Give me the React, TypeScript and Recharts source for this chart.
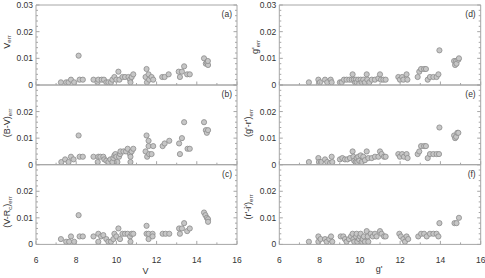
import { ScatterChart, Scatter, XAxis, YAxis } from 'recharts'

// V magnitude panels (a) V_err, (b) (B-V)_err, (c) (V-Rc)_err
const vA = [7.24, 7.5, 7.62, 7.74, 7.9, 8.12, 8.17, 8.33, 8.86, 9.06, 9.1, 9.27, 9.38, 9.5, 9.6, 9.73, 9.8, 9.9, 10.0, 10.1, 10.15, 10.3, 10.43, 10.6, 10.68, 10.7, 10.76, 10.84, 11.45, 11.5, 11.52, 11.6, 11.63, 11.75, 11.83, 12.28, 12.4, 12.6, 13.1, 13.16, 13.26, 13.37, 13.52, 13.65, 14.36, 14.45, 14.5, 14.56, 14.55]
const errA = [0.001, 0.001, 0.001, 0.002, 0.001, 0.011, 0.002, 0.002, 0.002, 0.001, 0.002, 0.002, 0.002, 0.001, 0.001, 0.001, 0.002, 0.003, 0.002, 0.005, 0.002, 0.003, 0.003, 0.003, 0.002, 0.001, 0.003, 0.004, 0.003, 0.006, 0.001, 0.004, 0.002, 0.003, 0.002, 0.003, 0.003, 0.004, 0.005, 0.003, 0.005, 0.007, 0.004, 0.004, 0.01, 0.008, 0.0085, 0.0075, 0.009]

const vB = [7.26, 7.45, 7.62, 7.74, 7.87, 8.12, 8.17, 8.33, 8.86, 9.1, 9.07, 9.2, 9.35, 9.4, 9.5, 9.6, 9.7, 9.8, 9.85, 9.9, 9.95, 10.0, 10.05, 10.13, 10.18, 10.2, 10.35, 10.48, 10.56, 10.68, 10.7, 10.7, 10.76, 10.84, 11.45, 11.5, 11.53, 11.6, 11.6, 11.63, 11.75, 11.83, 12.3, 12.4, 12.63, 13.12, 13.16, 13.26, 13.37, 13.54, 13.65, 14.36, 14.45, 14.5, 14.56]
const errB = [0.001, 0.002, 0.001, 0.003, 0.002, 0.011, 0.003, 0.003, 0.003, 0.003, 0.001, 0.003, 0.003, 0.002, 0.0015, 0.001, 0.002, 0.001, 0.0025, 0.0035, 0.004, 0.003, 0.001, 0.003, 0.004, 0.005, 0.005, 0.005, 0.006, 0.004, 0.003, 0.001, 0.005, 0.006, 0.005, 0.011, 0.003, 0.009, 0.007, 0.004, 0.004, 0.007, 0.007, 0.008, 0.009, 0.008, 0.004, 0.01, 0.016, 0.006, 0.006, 0.016, 0.013, 0.012, 0.013]

const vC = [7.24, 7.5, 7.65, 7.74, 7.9, 8.12, 8.17, 8.33, 8.86, 9.1, 9.1, 9.24, 9.35, 9.5, 9.6, 9.73, 9.85, 9.9, 10.0, 10.1, 10.18, 10.3, 10.43, 10.56, 10.68, 10.7, 10.76, 10.84, 11.5, 11.5, 11.6, 11.6, 11.8, 11.8, 12.3, 12.45, 12.63, 13.12, 13.16, 13.26, 13.37, 13.52, 13.65, 14.36, 14.43, 14.5, 14.56, 14.56]
const errC = [0.002, 0.001, 0.001, 0.003, 0.001, 0.011, 0.003, 0.003, 0.003, 0.004, 0.001, 0.003, 0.0035, 0.002, 0.001, 0.001, 0.002, 0.004, 0.003, 0.006, 0.002, 0.004, 0.004, 0.004, 0.003, 0.001, 0.004, 0.004, 0.007, 0.004, 0.002, 0.004, 0.004, 0.003, 0.004, 0.004, 0.004, 0.006, 0.004, 0.006, 0.008, 0.005, 0.006, 0.012, 0.011, 0.01, 0.0095, 0.0085]

// g' magnitude panels (d) g'_err, (e) (g'-r')_err, (f) (r'-i')_err
const gD = [7.47, 7.94, 7.97, 8.02, 8.27, 8.38, 8.55, 8.6, 9.01, 9.1, 9.21, 9.34, 9.48, 9.6, 9.64, 9.7, 9.76, 9.8, 9.84, 9.92, 9.97, 10.04, 10.09, 10.17, 10.25, 10.34, 10.37, 10.47, 10.59, 10.75, 10.92, 11.0, 11.05, 11.17, 11.28, 11.91, 11.99, 12.1, 12.16, 12.32, 12.36, 12.87, 12.95, 13.04, 13.19, 13.28, 13.37, 13.48, 13.65, 13.81, 13.9, 13.95, 14.68, 14.73, 14.78, 14.8, 14.89, 14.92]
const errD = [0.001, 0.002, 0.0006, 0.001, 0.002, 0.001, 0.002, 0.001, 0.001, 0.001, 0.002, 0.002, 0.002, 0.002, 0.004, 0.002, 0.001, 0.002, 0.001, 0.002, 0.0005, 0.002, 0.001, 0.002, 0.001, 0.004, 0.002, 0.001, 0.002, 0.002, 0.0025, 0.004, 0.002, 0.002, 0.002, 0.003, 0.002, 0.003, 0.002, 0.004, 0.002, 0.003, 0.005, 0.006, 0.006, 0.006, 0.002, 0.003, 0.003, 0.003, 0.004, 0.013, 0.009, 0.0075, 0.009, 0.008, 0.0095, 0.01]

const gE = [7.47, 7.94, 7.97, 8.07, 8.27, 8.38, 8.52, 8.6, 8.63, 9.01, 9.13, 9.26, 9.38, 9.51, 9.64, 9.68, 9.72, 9.79, 9.84, 9.87, 9.92, 9.97, 10.04, 10.09, 10.17, 10.25, 10.34, 10.42, 10.59, 10.75, 10.92, 11.0, 11.08, 11.2, 11.28, 11.91, 11.99, 12.1, 12.19, 12.32, 12.37, 12.87, 12.95, 13.04, 13.19, 13.28, 13.37, 13.48, 13.65, 13.81, 13.93, 13.95, 14.68, 14.73, 14.78, 14.84, 14.89]
const errE = [0.001, 0.0025, 0.001, 0.001, 0.002, 0.001, 0.0006, 0.003, 0.001, 0.002, 0.0025, 0.002, 0.002, 0.0025, 0.005, 0.003, 0.0015, 0.001, 0.0025, 0.001, 0.003, 0.0015, 0.0035, 0.001, 0.003, 0.0017, 0.005, 0.0025, 0.0025, 0.003, 0.003, 0.005, 0.004, 0.003, 0.003, 0.004, 0.003, 0.004, 0.003, 0.004, 0.0025, 0.004, 0.005, 0.007, 0.007, 0.007, 0.0025, 0.004, 0.004, 0.004, 0.004, 0.014, 0.011, 0.01, 0.0105, 0.012, 0.012]

const gF = [7.47, 7.94, 7.94, 8.05, 8.27, 8.35, 8.48, 8.57, 8.63, 9.05, 9.18, 9.26, 9.34, 9.46, 9.56, 9.64, 9.68, 9.72, 9.81, 9.84, 9.87, 9.96, 10.01, 10.04, 10.09, 10.14, 10.2, 10.25, 10.34, 10.39, 10.42, 10.54, 10.64, 10.75, 10.83, 11.0, 11.08, 11.2, 11.28, 11.96, 12.04, 12.16, 12.24, 12.32, 12.4, 12.9, 13.04, 13.19, 13.32, 13.48, 13.65, 13.81, 13.9, 13.95, 14.7, 14.8, 14.92]
const errF = [0.001, 0.003, 0.001, 0.002, 0.002, 0.001, 0.002, 0.003, 0.001, 0.003, 0.003, 0.002, 0.001, 0.002, 0.003, 0.004, 0.002, 0.001, 0.003, 0.004, 0.001, 0.002, 0.003, 0.004, 0.001, 0.002, 0.003, 0.001, 0.005, 0.003, 0.001, 0.004, 0.003, 0.004, 0.003, 0.005, 0.004, 0.003, 0.003, 0.004, 0.003, 0.002, 0.001, 0.003, 0.002, 0.003, 0.004, 0.004, 0.003, 0.004, 0.004, 0.004, 0.003, 0.008, 0.008, 0.008, 0.01]

const xTicks = [6, 7, 8, 9, 10, 11, 12, 13, 14, 15, 16]
const yTicks = [0, 0.002, 0.004, 0.006, 0.008, 0.01, 0.012, 0.014, 0.016, 0.018, 0.02, 0.022, 0.024, 0.026, 0.028, 0.03]

const W = 485
const H = 278
const AXIS = '#a6a6a6'
const TEXT = '#333'
const FONT = '"Liberation Sans", Arial, sans-serif'

const COLS = [
  { left: 36, right: 237 },
  { left: 279.3, right: 480.7 },
]
const ROWS = [
  { top: 5, bottom: 85 },
  { top: 85, bottom: 164.7 },
  { top: 164.7, bottom: 244.4 },
]

const Dot = (props: any) => (
  <circle cx={props.cx} cy={props.cy} r={2.6} fill="#c6c6c6" stroke="#8c8c8c" strokeWidth={0.8} />
)

const XTick = (props: any) => {
  const { x, y, payload, dir, labels } = props
  const v = payload.value
  const major = v % 2 === 0
  return (
    <g>
      <line x1={x} x2={x} y1={y} y2={y + dir * (major ? 3.5 : 2)} stroke={AXIS} />
      {labels && major && (
        <text x={x} y={y + 19} textAnchor="middle" fontSize={8.5} fill={TEXT} fontFamily={FONT}>
          {v}
        </text>
      )}
    </g>
  )
}

const YTick = (props: any) => {
  const { x, y, payload, dir, maxLabel } = props
  const v = payload.value
  const k = Math.round(v * 500)
  const major = k % 5 === 0
  return (
    <g>
      <line x1={x} x2={x + dir * (major ? 3.5 : 2)} y1={y} y2={y} stroke={AXIS} />
      {maxLabel != null && major && v <= maxLabel + 1e-9 && (
        <text x={x - 3} y={y + 3} textAnchor="end" fontSize={8.5} fill={TEXT} fontFamily={FONT}>
          {v === 0 ? '0' : v.toFixed(2)}
        </text>
      )}
    </g>
  )
}

function Panel({ xs, ys, col, row, maxLabel, xLabels }: any) {
  const data = xs.map((x: number, i: number) => ({ x, y: ys[i] }))
  const c = COLS[col]
  const r = ROWS[row]
  return (
    <div style={{ position: 'absolute', left: 0, top: 0 }}>
      <ScatterChart
        width={W}
        height={H}
        margin={{ left: c.left - 1, right: W - c.right - 1, top: r.top - 1, bottom: H - r.bottom - 1 }}
      >
        <XAxis
          xAxisId="b"
          type="number"
          dataKey="x"
          domain={[6, 16]}
          ticks={xTicks}
          interval={0}
          height={1}
          tickSize={0}
          tickMargin={0}
          tickLine={false}
          axisLine={{ stroke: AXIS }}
          tick={<XTick dir={-1} labels={xLabels} />}
          allowDataOverflow
        />
        <XAxis
          xAxisId="t"
          orientation="top"
          type="number"
          domain={[6, 16]}
          ticks={xTicks}
          interval={0}
          height={1}
          tickSize={0}
          tickMargin={0}
          tickLine={false}
          axisLine={{ stroke: AXIS }}
          tick={<XTick dir={1} labels={false} />}
          allowDataOverflow
        />
        <YAxis
          yAxisId="l"
          type="number"
          dataKey="y"
          domain={[0, 0.03]}
          ticks={yTicks}
          interval={0}
          width={1}
          tickSize={0}
          tickMargin={0}
          tickLine={false}
          axisLine={{ stroke: AXIS }}
          tick={<YTick dir={1} maxLabel={maxLabel} />}
          allowDataOverflow
        />
        <YAxis
          yAxisId="r"
          orientation="right"
          type="number"
          domain={[0, 0.03]}
          ticks={yTicks}
          interval={0}
          width={1}
          tickSize={0}
          tickMargin={0}
          tickLine={false}
          axisLine={{ stroke: AXIS }}
          tick={<YTick dir={-1} maxLabel={null} />}
          allowDataOverflow
        />
        <Scatter xAxisId="b" yAxisId="l" data={data} shape={Dot} isAnimationActive={false} />
      </ScatterChart>
    </div>
  )
}

const panelLetters = [
  { t: '(a)', col: 0, row: 0 },
  { t: '(b)', col: 0, row: 1 },
  { t: '(c)', col: 0, row: 2 },
  { t: '(d)', col: 1, row: 0 },
  { t: '(e)', col: 1, row: 1 },
  { t: '(f)', col: 1, row: 2 },
]

const Title = ({ x, y, main, sub, after, tail }: any) => (
  <text transform={`translate(${x},${y}) rotate(-90)`} textAnchor="middle" fontSize={9} fill={TEXT} fontFamily={FONT}>
    {main}
    {sub && (
      <tspan fontSize={6} dy={1.5}>
        {sub}
      </tspan>
    )}
    {after && (
      <tspan fontSize={9} dy={-1.5}>
        {after}
      </tspan>
    )}
    {tail && (
      <tspan fontSize={6} dy={1.5}>
        {tail}
      </tspan>
    )}
  </text>
)

export default function App() {
  return (
    <div style={{ position: 'absolute', left: 0, top: 0, width: W, height: H, background: '#fff' }}>
      <Panel xs={vA} ys={errA} col={0} row={0} maxLabel={0.03} xLabels={false} />
      <Panel xs={vB} ys={errB} col={0} row={1} maxLabel={0.02} xLabels={false} />
      <Panel xs={vC} ys={errC} col={0} row={2} maxLabel={0.02} xLabels={true} />
      <Panel xs={gD} ys={errD} col={1} row={0} maxLabel={0.03} xLabels={false} />
      <Panel xs={gE} ys={errE} col={1} row={1} maxLabel={0.02} xLabels={false} />
      <Panel xs={gF} ys={errF} col={1} row={2} maxLabel={0.02} xLabels={true} />
      <svg width={W} height={H} style={{ position: 'absolute', left: 0, top: 0, pointerEvents: 'none' }}>
        {panelLetters.map((p) => (
          <text
            key={p.t}
            x={COLS[p.col].right - 5}
            y={ROWS[p.row].top + 12}
            textAnchor="end"
            fontSize={8.5}
            fill={TEXT}
            fontFamily={FONT}
          >
            {p.t}
          </text>
        ))}
        <Title x={9.5} y={42} main="V" sub="err" />
        <Title x={10} y={123} main="(B-V)" sub="err" />
        <Title x={10} y={212} main="(V-R" sub="c" after=")" tail="err" />
        <Title x={258} y={47} main="g'" sub="err" />
        <Title x={251} y={123} main="(g'-r')" sub="err" />
        <Title x={251} y={207} main="(r'-i')" sub="err" />
        <text x={145.5} y={274} textAnchor="middle" fontSize={9} fill={TEXT} fontFamily={FONT}>
          V
        </text>
        <text x={379} y={272} textAnchor="middle" fontSize={9} fill={TEXT} fontFamily={FONT}>
          g'
        </text>
      </svg>
    </div>
  )
}
